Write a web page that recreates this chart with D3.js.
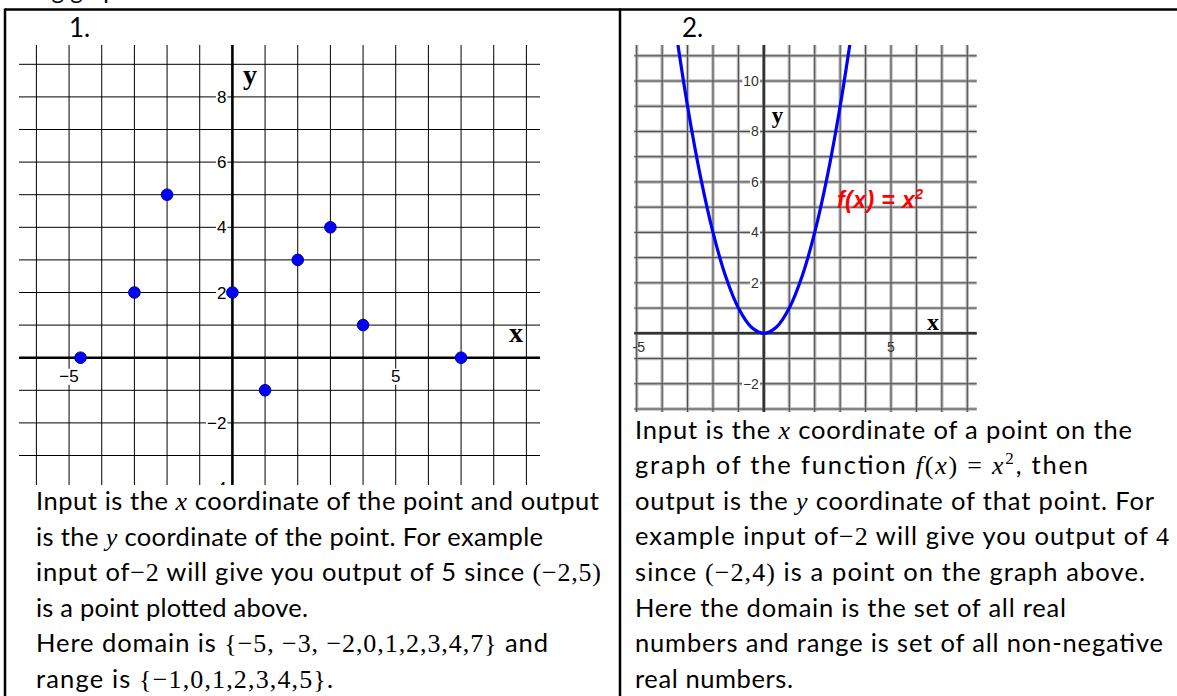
<!DOCTYPE html>
<html lang="en">

<head>
    <meta charset="UTF-8">
    <title>graphs of functions</title>
    <script src="https://d3js.org/d3.v7.min.js" charset="utf-8"></script>
    <style type="text/css">
        body {
            margin: 0;
            background: #fff;
        }

        .tick1 {
            font-family: "Liberation Sans", Arial, sans-serif;
            font-size: 17px;
            fill: #000;
        }

        .tick2 {
            font-family: "Liberation Sans", Arial, sans-serif;
            font-size: 14px;
            fill: #333;
        }

        .body {
            font-family: Lato, "Open Sans", sans-serif;
            font-size: 25.5px;
            fill: #000;
        }
    </style>
</head>

<body>
    <script type="text/javascript">
        let w = 1177,
            h = 696;

        // graph 1 : the plotted points
        const pointX = [-4.65, -3, -2, 0, 1, 2, 3, 4, 7];
        const pointY = [0, 2, 5, 2, -1, 3, 4, 1, 0];
        const g1XTicks = [-5, 5];
        const g1YTicks = [8, 6, 4, 2, -2, -4];

        // graph 2 : points
        const curveX = [-3.5, -3, -2.5, -2, -1.5, -1, -0.5, 0, 0.5, 1, 1.5, 2, 2.5, 3, 3.5];
        const curveY = [12.25, 9, 6.25, 4, 2.25, 1, 0.25, 0, 0.25, 1, 2.25, 4, 6.25, 9, 12.25];
        const g2XTicks = [-5, 5];
        const g2YTicks = [10, 8, 6, 4, 2, -2];

        // text under the graphs ($...$ = math, ^ = superscript)
        const leftLines = [
            "Input is the $x$ coordinate of the point and output",
            "is the $y$ coordinate of the point. For example",
            "input of$−2$ will give you output of 5 since $(−2,5)$",
            "is a point plotted above.",
            "Here domain is $\{−5, −3, −2,0,1,2,3,4,7\}$ and",
            "range is $\{−1,0,1,2,3,4,5\}$."
        ];
        const leftEnds = [599, 543, 601, 308, 548, 333];
        const rightLines = [
            "Input is the $x$ coordinate of a point on the",
            "graph of the function $f(x) = x^2$, then",
            "output is the $y$ coordinate of that point. For",
            "example input of$−2$ will give you output of $4$",
            "since $(−2,4)$ is a point on the graph above.",
            "Here the domain is the set of all real",
            "numbers and range is set of all non-negative",
            "real numbers."
        ];
        const rightEnds = [1132, 1088, 1154, 1169, 1145, 1066, 1163, 793];

        let svg = d3.select("body").append("svg").attr('width', w).attr('height', h);

        // ---- table borders + headings
        svg.append("text").attr("class", "body").attr("x", 5).attr("y", -1)
            .style("font-size", "24px").text("Using graphs");
        svg.append("line").attr("x1", 5).attr("x2", w + 5).attr("y1", 9.5).attr("y2", 9.5)
            .attr("stroke", "#000").attr("stroke-width", 2.5);
        svg.append("line").attr("x1", 5).attr("x2", 5).attr("y1", 8.5).attr("y2", h + 5)
            .attr("stroke", "#000").attr("stroke-width", 2.5);
        svg.append("line").attr("x1", 620).attr("x2", 620).attr("y1", 8.5).attr("y2", h + 5)
            .attr("stroke", "#000").attr("stroke-width", 2.5);
        svg.append("text").attr("class", "body").attr("x", 69).attr("y", 37)
            .style("font-size", "26px").text("1.");
        svg.append("text").attr("class", "body").attr("x", 682).attr("y", 37)
            .style("font-size", "26px").text("2.");

        // label with white box behind it
        function boxedLabel(g, cls, x, y, txt, anchor) {
            let t = g.append("text").attr("class", cls)
                .attr("x", x).attr("y", y)
                .attr("text-anchor", anchor)
                .text(txt);
            let b = t.node().getBBox();
            g.insert("rect", "text")
                .attr("x", b.x - 1).attr("y", b.y + 2)
                .attr("width", b.width + 2).attr("height", b.height - 3)
                .attr("fill", "#fff");
        }

        // ================= GRAPH 1 =================
        const x1 = d3.scaleLinear().domain([-6, 9]).range([36.4, 526.4]);
        const y1 = d3.scaleLinear().domain([9, -3]).range([64.3, 455.5]);
        const top1 = 45, bot1 = 485, left1 = 19, right1 = 540;

        svg.append("clipPath").attr("id", "clip1").append("rect")
            .attr("x", 0).attr("y", top1).attr("width", 560).attr("height", bot1 - top1);
        let g1 = svg.append("g").attr("clip-path", "url(#clip1)");

        g1.selectAll(".v1").data(d3.range(-6, 10)).enter().append("line")
            .attr("x1", d => x1(d)).attr("x2", d => x1(d))
            .attr("y1", top1).attr("y2", bot1)
            .attr("stroke", "#000").attr("stroke-width", 1);
        g1.selectAll(".h1").data(d3.range(-3, 10)).enter().append("line")
            .attr("y1", d => y1(d)).attr("y2", d => y1(d))
            .attr("x1", left1).attr("x2", right1)
            .attr("stroke", "#000").attr("stroke-width", 1);

        let lab1 = g1.append("g");
        g1XTicks.forEach(d => boxedLabel(lab1, "tick1", x1(d), y1(0) + 24, d < 0 ? "−" + (-d) : d, "middle"));
        g1YTicks.forEach(d => boxedLabel(lab1, "tick1", x1(0) - 6, y1(d) + 6, d < 0 ? "−" + (-d) : d, "end"));

        // axes
        g1.append("line").attr("x1", left1).attr("x2", right1).attr("y1", y1(0)).attr("y2", y1(0))
            .attr("stroke", "#000").attr("stroke-width", 2.6);
        g1.append("line").attr("x1", x1(0)).attr("x2", x1(0)).attr("y1", top1).attr("y2", bot1)
            .attr("stroke", "#000").attr("stroke-width", 2.6);

        svg.append("text").attr("x", 250).attr("y", 84).attr("text-anchor", "middle")
            .style("font", "bold 28px 'Liberation Serif', serif").text("y");
        svg.append("text").attr("x", 516).attr("y", 342).attr("text-anchor", "middle")
            .style("font", "bold 28px 'Liberation Serif', serif").text("x");

        g1.selectAll("circle").data(pointX).enter().append("circle")
            .attr("cx", d => x1(d))
            .attr("cy", (d, i) => y1(pointY[i]))
            .attr("r", 5.8)
            .attr("fill", "#0000ff")
            .attr("stroke", "#00008b")
            .attr("stroke-width", 1);

        // ================= GRAPH 2 =================
        const x2 = d3.scaleLinear().domain([-5, 8]).range([636.7, 967.3]);
        const y2 = d3.scaleLinear().domain([11, -3]).range([55.8, 409.0]);
        const top2 = 45, bot2 = 412, left2 = 634.3, right2 = 976.7;

        svg.append("clipPath").attr("id", "clip2").append("rect")
            .attr("x", 625).attr("y", top2).attr("width", 360).attr("height", bot2 - top2);
        let g2 = svg.append("g").attr("clip-path", "url(#clip2)");

        // blurry double grid: light halo + dark core
        [["#bdbdbd", 3.4], ["#4a4a4a", 1]].forEach(s => {
            g2.append("g").selectAll("line").data(d3.range(-5, 9)).enter().append("line")
                .attr("x1", d => x2(d)).attr("x2", d => x2(d))
                .attr("y1", top2).attr("y2", bot2)
                .attr("stroke", s[0]).attr("stroke-width", s[1]);
            g2.append("g").selectAll("line").data(d3.range(-3, 12)).enter().append("line")
                .attr("y1", d => y2(d)).attr("y2", d => y2(d))
                .attr("x1", left2).attr("x2", right2)
                .attr("stroke", s[0]).attr("stroke-width", s[1]);
        });

        let lab2 = g2.append("g");
        g2YTicks.forEach(d => boxedLabel(lab2, "tick2", x2(0) - 5, y2(d) + 5, d < 0 ? "−" + (-d) : d, "end"));
        g2XTicks.forEach(d => lab2.append("text").attr("class", "tick2")
            .attr("x", x2(d) + (d < 0 ? 2 : 0)).attr("y", y2(0) + 19)
            .attr("text-anchor", "middle").text(d < 0 ? "-" + (-d) : d));

        g2.append("line").attr("x1", left2).attr("x2", right2).attr("y1", y2(0)).attr("y2", y2(0))
            .attr("stroke", "#333").attr("stroke-width", 2.6);
        g2.append("line").attr("x1", x2(0)).attr("x2", x2(0)).attr("y1", top2).attr("y2", bot2)
            .attr("stroke", "#333").attr("stroke-width", 2.6);

        const parab = d3.line()
            .x(d => x2(d))
            .y((d, i) => y2(curveY[i]))
            .curve(d3.curveCatmullRom.alpha(0.5));
        g2.append("path").datum(curveX)
            .attr("d", parab)
            .attr("fill", "none")
            .attr("stroke", "#0000ff")
            .attr("stroke-width", 3.2);

        svg.append("text").attr("x", 777.5).attr("y", 123).attr("text-anchor", "middle")
            .style("font", "bold 23px 'Liberation Serif', serif").text("y");
        svg.append("text").attr("x", 933).attr("y", 330).attr("text-anchor", "middle")
            .style("font", "bold 24px 'Liberation Serif', serif").text("x");

        let fx = svg.append("text").attr("x", 837).attr("y", 208)
            .attr("textLength", 86)
            .style("font", "italic bold 23px 'Liberation Sans', Arial, sans-serif")
            .attr("fill", "#ff0000");
        fx.append("tspan").text("f(x) = x");
        fx.append("tspan").attr("dy", -9).style("font-size", "14px").text("2");

        // ================= TEXT =================
        function drawLines(lines, ends, x0, yFirst, step) {
            lines.forEach((line, i) => {
                let t = svg.append("text").attr("class", "body")
                    .attr("x", x0).attr("y", yFirst + i * step)
                    .attr("textLength", ends[i] - x0)
                    .attr("lengthAdjust", "spacing");
                let pendingDy = 0; // undo a superscript on the next tspan
                line.split("$").forEach((part, k) => {
                    if (k % 2 === 0) {
                        if (part.length) {
                            t.append("tspan").attr("dy", pendingDy || null).text(part);
                            pendingDy = 0;
                        }
                        return;
                    }
                    // math part: serif, letters italic, ^ raises next char
                    let sup = false;
                    for (const ch of part) {
                        if (ch === "^") { sup = true; continue; }
                        let s = t.append("tspan")
                            .style("font-family", "'Liberation Serif', 'DejaVu Serif', serif")
                            .style("font-size", "26px")
                            .style("font-style", /[a-z]/.test(ch) ? "italic" : "normal")
                            .attr("dy", pendingDy || null)
                            .text(ch);
                        pendingDy = 0;
                        if (sup) {
                            s.attr("dy", -10).style("font-size", "17px");
                            sup = false;
                            pendingDy = 10;
                        }
                    }
                });
            });
        }
        drawLines(leftLines, leftEnds, 36, 510, 35.6);
        drawLines(rightLines, rightEnds, 635, 438.5, 35.6);
    </script>
</body>

</html>
